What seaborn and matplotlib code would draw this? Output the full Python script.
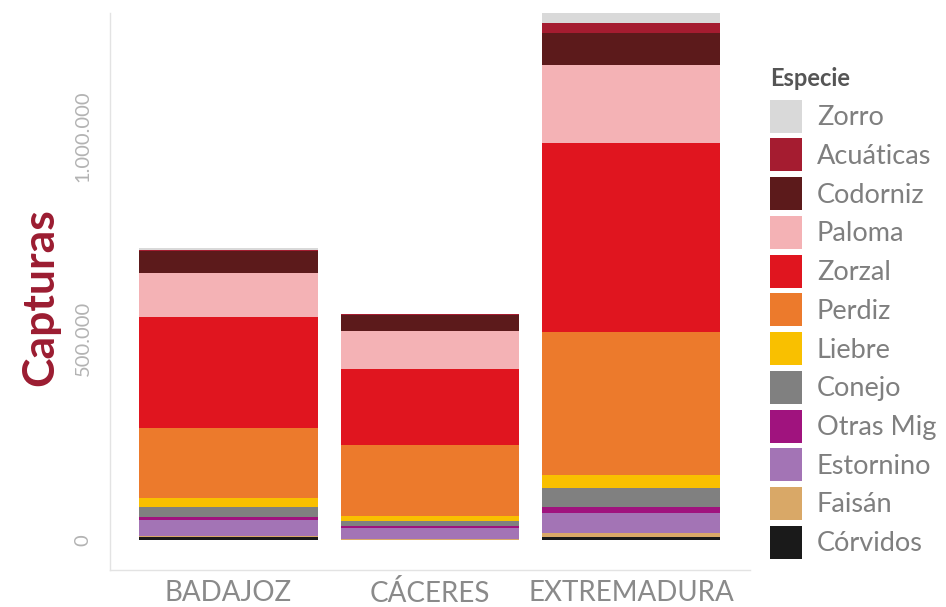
import numpy as np
import pandas as pd
import seaborn as sns
import matplotlib.pyplot as plt
from matplotlib.ticker import FuncFormatter

provincias = ['BADAJOZ', 'CÁCERES', 'EXTREMADURA']
especies = ['Zorro', 'Acuáticas', 'Codorniz', 'Paloma', 'Zorzal', 'Perdiz',
            'Liebre', 'Conejo', 'Otras Mig', 'Estornino', 'Faisán',
            'Córvidos']
colores = ['#d9d9d9', '#a51c30', '#5c1a1b', '#f4b2b5', '#e0151f', '#ec7a2c',
           '#f9c000', '#808080', '#a0137e', '#a374b5', '#d9a867', '#1a1a1a']

# capturas por especie (mismo orden que especies)
badajoz = [4000, 3000, 54000, 109000, 275000, 173000,
           22000, 27000, 7000, 40000, 2000, 7000]
caceres = [2000, 2000, 40000, 94000, 188000, 176000,
           12000, 12000, 5000, 27000, 2000, 1000]
extremadura = [25000, 25000, 79000, 193000, 468000, 354000,
               32000, 47000, 15000, 50000, 10000, 7000]


def miles(v, pos):
    return f'{int(v):,}'.replace(',', '.')


def main():
    df = pd.DataFrame({
        'Provincia': np.repeat(provincias, len(especies)),
        'Especie': especies * len(provincias),
        'Capturas': badajoz + caceres + extremadura,
    })

    sns.set_style('white')
    plt.rcParams['font.family'] = ['Lato', 'DejaVu Sans']

    fig = plt.figure(figsize=(9.46, 6.07), dpi=100)
    ax = fig.add_axes([0.116, 0.061, 0.677, 0.918])
    sns.histplot(data=df, x='Provincia', weights='Capturas', hue='Especie',
                 hue_order=especies, palette=colores, multiple='stack',
                 discrete=True, shrink=0.885, alpha=1, linewidth=0, ax=ax)

    ax.set_xlim(-0.59, 2.59)
    ax.set_ylim(-74000, 1306000)
    ax.set_xticks(range(len(provincias)))
    ax.set_xticklabels(provincias)
    ax.set_yticks([0, 500000, 1000000])
    ax.yaxis.set_major_formatter(FuncFormatter(miles))
    ax.tick_params(axis='y', labelsize=14.5, labelcolor='#b3b3b3',
                   labelrotation=90, length=3, color='#e3e3e3', pad=10)
    for lab in ax.get_yticklabels():
        lab.set_va('center')
    ax.tick_params(axis='x', labelsize=20, labelcolor='#8a8a8a',
                   length=0, pad=7)

    for s in ['top', 'right']:
        ax.spines[s].set_visible(False)
    for s in ['left', 'bottom']:
        ax.spines[s].set_color('#e3e3e3')
        ax.spines[s].set_linewidth(1)

    ax.set_xlabel('')
    ax.set_ylabel('Capturas', fontsize=32, fontweight='bold', color='#9b1c31')
    ax.yaxis.set_label_coords(-0.078, 0.49)

    sns.move_legend(ax, 'upper left', bbox_to_anchor=(770 / 946, 1 - 67 / 607),
                    bbox_transform=fig.transFigure, frameon=False,
                    title='Especie', borderpad=0, borderaxespad=0,
                    prop={'size': 19.5}, labelcolor='#7f7f7f',
                    handlelength=1.18, handleheight=1.5, labelspacing=0.21,
                    handletextpad=0.55, alignment='left',
                    title_fontproperties={'weight': 'bold', 'size': 17})
    leg = ax.get_legend()
    leg.get_title().set_color('#555555')
    leg._legend_box.sep = 7

    fig.savefig('out.png', dpi=100)


if __name__ == '__main__':
    main()
